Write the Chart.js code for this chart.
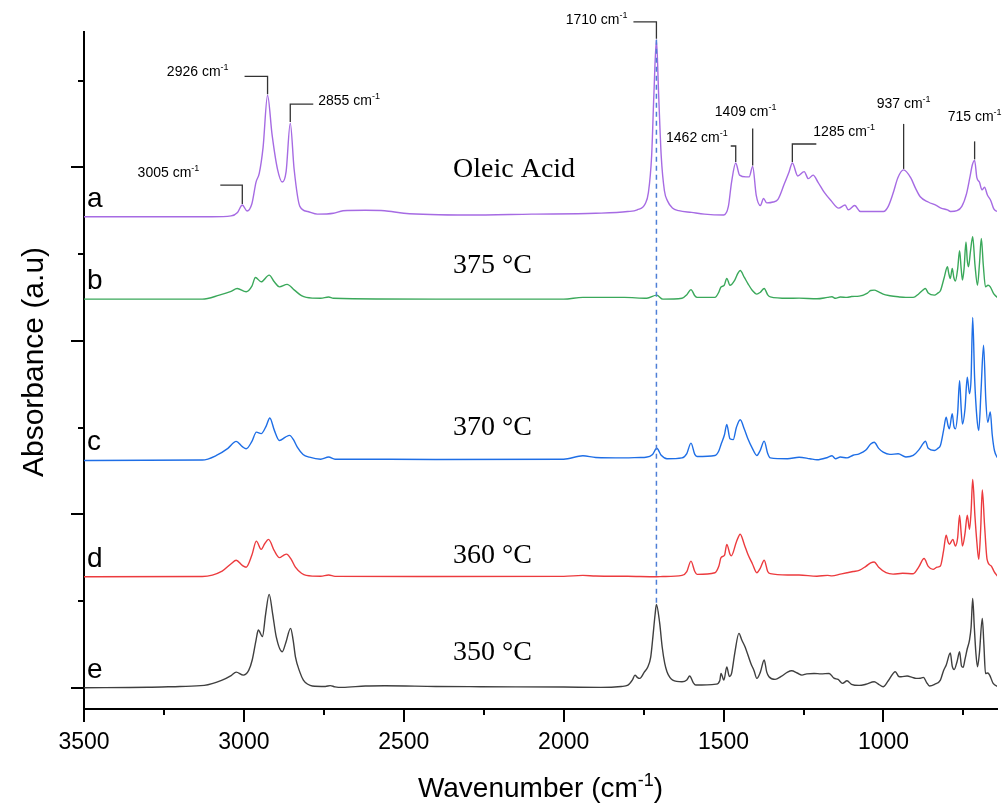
<!DOCTYPE html>
<html>
<head>
<meta charset="utf-8">
<script src="https://cdn.jsdelivr.net/npm/chart.js@4.4.1/dist/chart.umd.min.js"></script>
<style>
  html, body { margin: 0; padding: 0; background: #fff; }
</style>
</head>
<body>
<canvas id="ftir" width="1003" height="803"></canvas>
<script>
// FTIR spectra: oleic acid and products at four temperatures (stacked)
const waveA = [3500, 3100, 3040, 3020, 3005, 2990, 2975, 2962, 2952, 2940, 2926, 2912, 2895, 2880, 2868, 2855, 2843, 2825, 2800, 2770, 2720, 2690, 2620, 2560, 2500, 2300, 2100, 1900, 1800, 1770, 1745, 1735, 1725, 1718, 1710, 1703, 1695, 1685, 1675, 1660, 1640, 1600, 1560, 1500, 1485, 1475, 1462, 1450, 1430, 1420, 1409, 1398, 1385, 1375, 1365, 1345, 1330, 1310, 1295, 1285, 1268, 1248, 1235, 1220, 1205, 1185, 1165, 1140, 1120, 1110, 1090, 1072, 1000, 985, 970, 955, 937, 915, 900, 885, 860, 835, 820, 800, 790, 770, 755, 740, 730, 722, 715, 708, 700, 692, 684, 675, 665, 655, 645];
const absA  = [0, 0, 0.01, 0.05, 0.135, 0.066, 0.15, 0.40, 0.50, 0.80, 1.40, 0.95, 0.55, 0.40, 0.52, 1.08, 0.55, 0.12, 0.06, 0.03, 0.04, 0.07, 0.075, 0.07, 0.04, 0.02, 0.03, 0.04, 0.06, 0.08, 0.15, 0.28, 0.70, 1.40, 2.04, 1.40, 0.70, 0.30, 0.18, 0.10, 0.07, 0.05, 0.03, 0.02, 0.12, 0.40, 0.62, 0.48, 0.46, 0.46, 0.58, 0.25, 0.13, 0.21, 0.16, 0.17, 0.20, 0.38, 0.52, 0.62, 0.47, 0.52, 0.44, 0.48, 0.40, 0.28, 0.19, 0.10, 0.135, 0.08, 0.13, 0.06, 0.06, 0.12, 0.27, 0.45, 0.54, 0.45, 0.33, 0.23, 0.17, 0.13, 0.10, 0.08, 0.06, 0.07, 0.12, 0.27, 0.45, 0.60, 0.65, 0.45, 0.40, 0.31, 0.34, 0.25, 0.19, 0.09, 0.06];

const waveB = [3500, 3130, 3077, 3040, 3021, 2993, 2975, 2964, 2946, 2921, 2905, 2889, 2865, 2842, 2820, 2805, 2760, 2735, 2720, 2400, 2000, 1940, 1810, 1740, 1709, 1690, 1630, 1615, 1602, 1590, 1583, 1527, 1515, 1508, 1498, 1490, 1480, 1465, 1455, 1448, 1435, 1424, 1410, 1396, 1385, 1373, 1362, 1354, 1300, 1264, 1208, 1175, 1161, 1150, 1135, 1114, 1100, 1076, 1050, 1040, 1029, 1015, 1001, 980, 954, 930, 907, 890, 875, 869, 860, 841, 830, 822, 810, 800, 796, 791, 785, 780, 775, 768, 762, 757, 753, 748, 742, 738, 734, 728, 721, 714, 706, 700, 694, 688, 681, 673, 666, 655, 644];
const absB  = [0, 0, 0.046, 0.09, 0.123, 0.085, 0.15, 0.25, 0.20, 0.277, 0.20, 0.142, 0.17, 0.104, 0.04, 0.02, 0.01, 0.025, 0.01, 0, 0, 0.02, 0.02, 0.01, 0.046, 0, 0.01, 0.05, 0.11, 0.04, 0.02, 0.02, 0.08, 0.14, 0.16, 0.24, 0.16, 0.22, 0.30, 0.33, 0.25, 0.18, 0.10, 0.058, 0.08, 0.123, 0.05, 0.027, 0.01, 0.012, 0.004, 0.02, 0.027, 0.01, 0.025, 0.02, 0.03, 0.035, 0.07, 0.10, 0.104, 0.085, 0.058, 0.04, 0.027, 0.02, 0.02, 0.06, 0.11, 0.123, 0.07, 0.046, 0.07, 0.096, 0.25, 0.373, 0.30, 0.238, 0.354, 0.25, 0.21, 0.35, 0.558, 0.35, 0.22, 0.35, 0.66, 0.45, 0.373, 0.55, 0.72, 0.40, 0.16, 0.40, 0.70, 0.40, 0.142, 0.16, 0.142, 0.06, 0.02];

const waveC = [3500, 3130, 3086, 3050, 3024, 3005, 2993, 2975, 2961, 2946, 2930, 2919, 2905, 2889, 2870, 2857, 2845, 2833, 2815, 2795, 2760, 2735, 2715, 2692, 2400, 2000, 1940, 1900, 1809, 1760, 1743, 1722, 1709, 1695, 1677, 1630, 1615, 1602, 1590, 1583, 1527, 1515, 1508, 1497, 1490, 1480, 1470, 1460, 1448, 1435, 1424, 1410, 1396, 1385, 1373, 1362, 1354, 1300, 1264, 1230, 1208, 1175, 1161, 1150, 1135, 1114, 1095, 1076, 1055, 1040, 1029, 1015, 1001, 980, 954, 930, 907, 890, 875, 869, 860, 841, 830, 822, 812, 804, 798, 794, 785, 780, 775, 768, 762, 757, 753, 745, 738, 731, 726, 721, 715, 708, 702, 695, 687, 680, 674, 666, 660, 653, 642];
const absC  = [0, 0.005, 0.058, 0.14, 0.22, 0.16, 0.135, 0.22, 0.327, 0.31, 0.40, 0.49, 0.35, 0.23, 0.27, 0.29, 0.24, 0.154, 0.07, 0.038, 0.015, 0.04, 0.015, 0.015, 0.012, 0.015, 0.054, 0.035, 0.03, 0.035, 0.038, 0.07, 0.142, 0.06, 0.02, 0.03, 0.08, 0.20, 0.07, 0.046, 0.058, 0.11, 0.185, 0.30, 0.415, 0.25, 0.24, 0.38, 0.47, 0.36, 0.25, 0.14, 0.058, 0.12, 0.223, 0.08, 0.03, 0.02, 0.038, 0.02, 0.008, 0.035, 0.054, 0.02, 0.04, 0.03, 0.06, 0.077, 0.12, 0.19, 0.21, 0.14, 0.096, 0.07, 0.077, 0.04, 0.058, 0.12, 0.20, 0.223, 0.14, 0.115, 0.14, 0.173, 0.35, 0.50, 0.40, 0.365, 0.54, 0.40, 0.365, 0.55, 0.92, 0.60, 0.42, 0.60, 0.96, 0.77, 0.95, 1.65, 0.95, 0.50, 0.346, 0.80, 1.33, 0.70, 0.44, 0.56, 0.30, 0.115, 0.02];

const waveD = [3500, 3130, 3068, 3040, 3024, 3005, 2993, 2975, 2961, 2946, 2935, 2923, 2905, 2889, 2875, 2867, 2852, 2839, 2820, 2805, 2760, 2735, 2715, 2400, 2000, 1940, 1900, 1800, 1709, 1690, 1630, 1615, 1602, 1590, 1583, 1527, 1515, 1508, 1497, 1490, 1480, 1476, 1460, 1448, 1435, 1424, 1410, 1396, 1385, 1373, 1362, 1354, 1300, 1264, 1208, 1175, 1161, 1135, 1114, 1095, 1076, 1055, 1040, 1029, 1015, 992, 970, 940, 907, 890, 873, 860, 845, 832, 822, 812, 804, 798, 794, 783, 775, 768, 762, 757, 753, 745, 738, 731, 726, 721, 714, 708, 702, 696, 691, 684, 676, 663, 654, 644];
const absD  = [0, 0.003, 0.065, 0.15, 0.19, 0.13, 0.11, 0.25, 0.41, 0.315, 0.38, 0.43, 0.30, 0.22, 0.25, 0.26, 0.20, 0.11, 0.04, 0.015, 0.005, 0.02, 0.004, 0.002, 0.004, 0.015, 0.008, 0.005, 0, 0.002, 0.015, 0.06, 0.18, 0.06, 0.027, 0.046, 0.12, 0.22, 0.25, 0.373, 0.26, 0.24, 0.40, 0.49, 0.37, 0.26, 0.15, 0.046, 0.10, 0.19, 0.06, 0.035, 0.02, 0.02, 0.006, 0.015, 0.01, 0.03, 0.046, 0.06, 0.073, 0.12, 0.16, 0.17, 0.11, 0.046, 0.03, 0.04, 0.035, 0.11, 0.21, 0.12, 0.085, 0.11, 0.123, 0.30, 0.48, 0.40, 0.373, 0.43, 0.354, 0.45, 0.71, 0.50, 0.354, 0.50, 0.71, 0.546, 0.75, 1.12, 0.70, 0.40, 0.20, 0.55, 1.00, 0.60, 0.20, 0.123, 0.06, 0.008];

const waveE = [3500, 3300, 3200, 3124, 3068, 3040, 3024, 3002, 2985, 2974, 2962, 2955, 2942, 2932, 2921, 2910, 2899, 2880, 2869, 2854, 2846, 2839, 2825, 2814, 2800, 2786, 2745, 2730, 2715, 2692, 2620, 2560, 2400, 2260, 2000, 1884, 1820, 1799, 1785, 1777, 1770, 1762, 1748, 1737, 1728, 1722, 1714, 1710, 1700, 1692, 1684, 1677, 1668, 1659, 1630, 1615, 1606, 1595, 1587, 1523, 1512, 1508, 1499, 1490, 1482, 1475, 1465, 1452, 1443, 1433, 1414, 1405, 1396, 1385, 1373, 1365, 1358, 1339, 1320, 1300, 1287, 1270, 1255, 1240, 1217, 1195, 1170, 1155, 1142, 1128, 1114, 1100, 1076, 1055, 1029, 1015, 1001, 985, 963, 952, 945, 926, 910, 898, 885, 875, 865, 856, 840, 822, 812, 804, 791, 785, 779, 770, 762, 756, 751, 745, 738, 731, 726, 721, 716, 711, 706, 700, 691, 686, 681, 674, 668, 657, 642];
const absE  = [0, 0.005, 0.015, 0.027, 0.088, 0.14, 0.18, 0.146, 0.20, 0.32, 0.55, 0.665, 0.59, 0.85, 1.077, 0.85, 0.59, 0.415, 0.52, 0.685, 0.55, 0.36, 0.18, 0.088, 0.04, 0.02, 0.015, 0.025, 0.01, 0.004, 0.02, 0.023, 0.015, 0.012, 0.008, 0.004, 0.015, 0.03, 0.09, 0.146, 0.12, 0.108, 0.18, 0.24, 0.35, 0.55, 0.85, 0.96, 0.75, 0.47, 0.28, 0.185, 0.12, 0.088, 0.069, 0.09, 0.135, 0.06, 0.031, 0.042, 0.08, 0.165, 0.088, 0.24, 0.13, 0.165, 0.40, 0.627, 0.55, 0.473, 0.273, 0.20, 0.108, 0.18, 0.32, 0.18, 0.127, 0.096, 0.13, 0.18, 0.196, 0.17, 0.146, 0.16, 0.165, 0.16, 0.165, 0.11, 0.096, 0.05, 0.08, 0.04, 0.027, 0.04, 0.069, 0.04, 0.012, 0.08, 0.185, 0.13, 0.127, 0.135, 0.12, 0.108, 0.11, 0.12, 0.06, 0.02, 0.04, 0.088, 0.20, 0.26, 0.40, 0.25, 0.21, 0.30, 0.415, 0.25, 0.235, 0.33, 0.45, 0.55, 0.70, 1.03, 0.70, 0.40, 0.242, 0.40, 0.80, 0.50, 0.165, 0.17, 0.146, 0.05, 0.012];

const letters = ['a', 'b', 'c', 'd', 'e'];
const sampleNames = ['Oleic Acid', '375 °C', '370 °C', '360 °C', '350 °C'];
const offsets = [5.43, 4.48, 2.62, 1.28, 0];
const nameLevels = [5.886, 4.78, 2.91, 1.434, 0.315];
const xTicks = [750, 1000, 1250, 1500, 1750, 2000, 2250, 2500, 2750, 3000, 3250, 3500];
const yTicks = [0, 1, 2, 3, 4, 5, 6, 7];

// peak labels on the oleic acid trace
const peakWaves = [3005, 2926, 2855, 1710, 1462, 1409, 1285, 937, 715];

const waves = [waveA, waveB, waveC, waveD, waveE];
const values = [absA, absB, absC, absD, absE];
const colors = ['#a66be3', '#3aa85a', '#1e6ee6', '#ec3b3e', '#3f3f3f'];

// leader shape for each peak label: rise, sideways run, text offset from the corner
const leaders = [
  { up: 19, side: -22, tx: -21, ty: -8, align: 'right' },
  { up: 18, side: -23, tx: -16, ty: 0, align: 'right' },
  { up: 18, side: 23, tx: 5, ty: 1, align: 'left' },
  { up: 17, side: -23, tx: -6, ty: 2, align: 'right' },
  { up: 16, side: -5, tx: -3, ty: -4, align: 'right' },
  { up: 37, side: 0, tx: -7, ty: -12, align: 'center' },
  { up: 18, side: 24, tx: -3, ty: -8, align: 'left' },
  { up: 45, side: 0, tx: 0, ty: -16, align: 'center' },
  { up: 18, side: 0, tx: 0, ty: -20, align: 'center' }
];

function valueAt(wave, abs, wn) {
  for (let i = 0; i < wave.length - 1; i++) {
    if (wave[i] >= wn && wave[i + 1] <= wn) {
      const t = (wave[i] - wn) / (wave[i] - wave[i + 1]);
      return abs[i] + t * (abs[i + 1] - abs[i]);
    }
  }
  return 0;
}

// text with a raised "-1" after the unit
function drawWithSup(ctx, main, sup, tail, x, y, size, supSize, rise, align) {
  ctx.font = size + 'px "Liberation Sans", Arial, sans-serif';
  const w1 = ctx.measureText(main).width;
  const w3 = tail ? ctx.measureText(tail).width : 0;
  ctx.font = supSize + 'px "Liberation Sans", Arial, sans-serif';
  const w2 = ctx.measureText(sup).width;
  const total = w1 + w2 + w3;
  let x0 = x;
  if (align === 'right') x0 = x - total;
  if (align === 'center') x0 = x - total / 2;
  ctx.textAlign = 'left';
  ctx.textBaseline = 'alphabetic';
  ctx.font = size + 'px "Liberation Sans", Arial, sans-serif';
  ctx.fillText(main, x0, y);
  if (tail) ctx.fillText(tail, x0 + w1 + w2, y);
  ctx.font = supSize + 'px "Liberation Sans", Arial, sans-serif';
  ctx.fillText(sup, x0 + w1, y - rise);
}

const decorations = {
  id: 'decorations',
  afterDatasetsDraw(chart) {
    const ctx = chart.ctx;
    const xs = chart.scales.x;
    const ys = chart.scales.y;
    const area = chart.chartArea;
    ctx.save();

    // tick marks, long on labelled values
    ctx.strokeStyle = '#000';
    ctx.lineWidth = 2;
    xTicks.forEach(v => {
      const px = Math.round(xs.getPixelForValue(v));
      const len = v % 500 === 0 ? 13 : 6;
      ctx.beginPath();
      ctx.moveTo(px, area.bottom);
      ctx.lineTo(px, area.bottom + len);
      ctx.stroke();
    });
    yTicks.forEach(v => {
      const py = Math.round(ys.getPixelForValue(v));
      const len = v % 2 === 0 ? 13 : 6;
      ctx.beginPath();
      ctx.moveTo(area.left - len, py);
      ctx.lineTo(area.left, py);
      ctx.stroke();
    });

    // dashed guide through the carbonyl band
    const xc = xs.getPixelForValue(1710);
    ctx.strokeStyle = '#4f7fd6';
    ctx.lineWidth = 1.5;
    ctx.setLineDash([5, 4]);
    ctx.beginPath();
    ctx.moveTo(xc, ys.getPixelForValue(valueAt(waveA, absA, 1710) + offsets[0]));
    ctx.lineTo(xc, ys.getPixelForValue(valueAt(waveE, absE, 1710) + offsets[4]));
    ctx.stroke();
    ctx.setLineDash([]);

    // peak leaders and labels
    ctx.strokeStyle = '#333';
    ctx.fillStyle = '#000';
    ctx.lineWidth = 1.3;
    peakWaves.forEach((wn, i) => {
      const l = leaders[i];
      const px = xs.getPixelForValue(wn);
      const py = ys.getPixelForValue(valueAt(waveA, absA, wn) + offsets[0]) - 1;
      const cy = py - l.up;
      const cx = px + l.side;
      ctx.beginPath();
      ctx.moveTo(px, py);
      ctx.lineTo(px, cy);
      if (l.side) ctx.lineTo(cx, cy);
      ctx.stroke();
      drawWithSup(ctx, wn + ' cm', '-1', '', cx + l.tx, cy + l.ty, 14, 9, 6, l.align);
    });

    // trace letters and sample names
    ctx.fillStyle = '#000';
    ctx.textAlign = 'left';
    ctx.textBaseline = 'alphabetic';
    letters.forEach((t, i) => {
      ctx.font = '28px "Liberation Sans", Arial, sans-serif';
      ctx.fillText(t, area.left + 3, ys.getPixelForValue(offsets[i]) - 10);
      ctx.font = '28px "Liberation Serif", "Times New Roman", serif';
      ctx.fillText(sampleNames[i], xs.getPixelForValue(2346), ys.getPixelForValue(nameLevels[i]));
    });

    // axis titles
    drawWithSup(ctx, 'Wavenumber (cm', '-1', ')', (area.left + area.right) / 2, 797, 28, 18, 11, 'center');
    ctx.save();
    ctx.translate(43, 362);
    ctx.rotate(-Math.PI / 2);
    ctx.font = '30px "Liberation Sans", Arial, sans-serif';
    ctx.textAlign = 'center';
    ctx.fillText('Absorbance (a.u)', 0, 0);
    ctx.restore();

    ctx.restore();
  }
};

const datasets = waves.map((wave, i) => ({
  label: letters[i],
  data: wave.map((w, j) => ({ x: w, y: values[i][j] + offsets[i] })),
  borderColor: colors[i],
  borderWidth: 1.4,
  pointRadius: 0,
  fill: false,
  cubicInterpolationMode: 'monotone'
}));

new Chart(document.getElementById('ftir').getContext('2d'), {
  type: 'line',
  data: { datasets: datasets },
  options: {
    responsive: false,
    animation: false,
    layout: { padding: { left: 84, top: 32, right: 6, bottom: 0 } },
    plugins: {
      legend: { display: false },
      tooltip: { enabled: false }
    },
    scales: {
      x: {
        type: 'linear',
        reverse: true,
        min: 645,
        max: 3500,
        afterBuildTicks: s => { s.ticks = xTicks.map(v => ({ value: v })); },
        afterFit: s => { s.height = 94; },
        grid: { display: false, drawTicks: false },
        border: { display: true, color: '#000', width: 2 },
        ticks: {
          color: '#000',
          padding: 20,
          maxRotation: 0,
          autoSkip: false,
          font: { family: '"Liberation Sans", Arial, sans-serif', size: 23 },
          callback: v => (v % 500 === 0 ? String(v) : '')
        }
      },
      y: {
        min: -0.245,
        max: 7.56,
        afterBuildTicks: s => { s.ticks = yTicks.map(v => ({ value: v })); },
        afterFit: s => { s.width = 0; },
        grid: { display: false, drawTicks: false },
        border: { display: true, color: '#000', width: 2 },
        ticks: { display: false }
      }
    }
  },
  plugins: [decorations]
});
</script>
</body>
</html>
